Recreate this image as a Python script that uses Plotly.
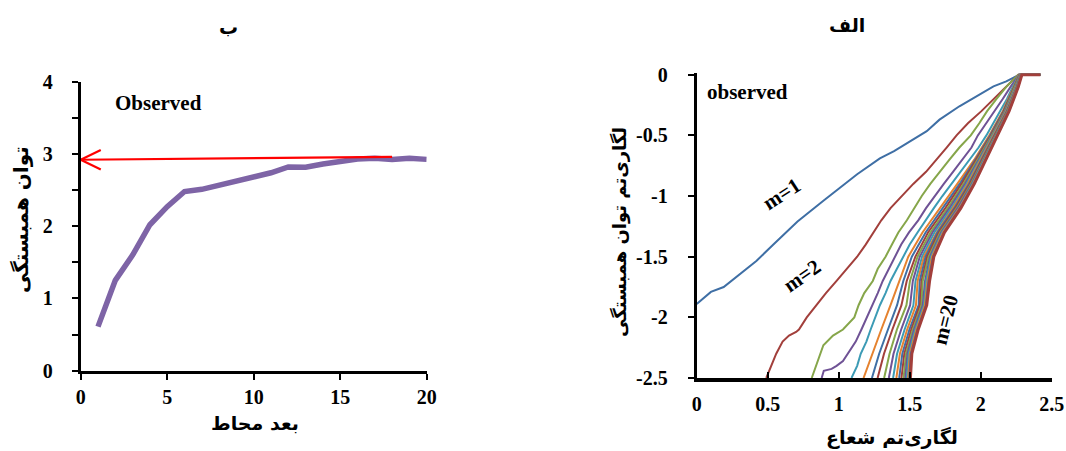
import plotly.graph_objects as go

# ---------------- panel "ب": correlation exponent vs embedding dimension ----------------
embedding_dim = list(range(1, 21))
corr_exponent = [0.61, 1.25, 1.60, 2.02, 2.27, 2.48, 2.51, 2.57, 2.62, 2.685,
                 2.74, 2.82, 2.815, 2.86, 2.89, 2.93, 2.94, 2.925, 2.94, 2.925]

# saturation arrow (tail -> tip) and the two arms of its open head
arrow_x = [18.0, 0.0]
arrow_y = [2.96, 2.92]
arrow_arm_dx = 1.16
arrow_arm_dy = 0.135

# ---------------- panel "الف": log C(r) vs log r for m = 1..20 ----------------
log_r_max = 2.42  # every curve ends flat at log C = 0 out to here

m1_log_r = [0.00, 0.10, 0.19, 0.30, 0.42, 0.54, 0.62, 0.71, 0.89, 1.13, 1.29, 1.39,
            1.62, 1.71, 1.85, 1.95, 2.09, 2.18, 2.25, 2.27]
m1_log_c = [-1.89, -1.79, -1.75, -1.645, -1.535, -1.40, -1.31, -1.21, -1.04, -0.82, -0.69, -0.63,
            -0.465, -0.37, -0.26, -0.19, -0.096, -0.055, -0.008, 0.0]

m2_log_r = [0.49, 0.525, 0.56, 0.605, 0.65, 0.70, 0.72, 0.775, 0.84, 0.91, 0.985, 1.06, 1.13,
            1.19, 1.245, 1.30, 1.365, 1.445, 1.525, 1.615, 1.69, 1.76, 1.83, 1.91, 2.005,
            2.09, 2.175, 2.265]
m2_log_c = [-2.5, -2.4, -2.3, -2.2, -2.15, -2.12, -2.1, -2.0, -1.9, -1.8, -1.7, -1.6, -1.5,
            -1.4, -1.3, -1.2, -1.1, -1.0, -0.9, -0.8, -0.7, -0.6, -0.5, -0.4, -0.3,
            -0.2, -0.1, 0.0]

m3_log_r = [0.81, 0.84, 0.87, 0.892, 0.96, 1.03, 1.11, 1.14, 1.18, 1.24, 1.275, 1.33, 1.375,
            1.42, 1.48, 1.53, 1.585, 1.645, 1.71, 1.78, 1.85, 1.93, 1.99, 2.045, 2.11,
            2.18, 2.265]
m3_log_c = [-2.5, -2.4, -2.3, -2.23, -2.15, -2.1, -2.0, -1.9, -1.8, -1.7, -1.6, -1.5, -1.4,
            -1.3, -1.2, -1.1, -1.0, -0.9, -0.8, -0.7, -0.6, -0.5, -0.4, -0.3, -0.2,
            -0.1, 0.0]

m4_log_r = [0.88, 0.895, 0.95, 0.985, 1.03, 1.065, 1.12, 1.16, 1.20, 1.24, 1.275, 1.31, 1.355,
            1.40, 1.44, 1.495, 1.56, 1.615, 1.675, 1.74, 1.805, 1.87, 1.935, 1.98, 2.04,
            2.095, 2.155, 2.21, 2.27]
m4_log_c = [-2.5, -2.44, -2.425, -2.4, -2.36, -2.3, -2.2, -2.1, -2.0, -1.9, -1.8, -1.7, -1.6,
            -1.5, -1.4, -1.3, -1.2, -1.1, -1.0, -0.9, -0.8, -0.7, -0.6, -0.5, -0.4,
            -0.3, -0.2, -0.1, 0.0]

m5_log_r = [1.09, 1.105, 1.13, 1.155, 1.195, 1.225, 1.255, 1.29, 1.33, 1.365, 1.41, 1.455,
            1.50, 1.555, 1.61, 1.67, 1.73, 1.795, 1.86, 1.925, 1.985, 2.04, 2.09, 2.14,
            2.185, 2.225, 2.27]
m5_log_c = [-2.5, -2.46, -2.4, -2.3, -2.2, -2.1, -2.0, -1.9, -1.8, -1.7, -1.6, -1.5,
            -1.4, -1.3, -1.2, -1.1, -1.0, -0.9, -0.8, -0.7, -0.6, -0.5, -0.4, -0.3,
            -0.2, -0.1, 0.0]

# m = 6..20 share one set of log C levels; each row holds log r for one m
bundle_log_c = [-2.5, -2.3, -2.1, -1.9, -1.7, -1.5, -1.3, -1.1, -0.9, -0.7, -0.5, -0.3, -0.1, 0.0]
bundle_log_r = [
    [1.175, 1.235, 1.300, 1.365, 1.425, 1.490, 1.590, 1.715, 1.835, 1.955, 2.060, 2.155, 2.235, 2.270],  # m=6
    [1.234, 1.285, 1.347, 1.411, 1.455, 1.515, 1.612, 1.735, 1.852, 1.963, 2.066, 2.160, 2.238, 2.272],  # m=7
    [1.274, 1.319, 1.378, 1.442, 1.479, 1.540, 1.629, 1.751, 1.865, 1.971, 2.072, 2.164, 2.241, 2.274],  # m=8
    [1.320, 1.358, 1.410, 1.477, 1.502, 1.555, 1.646, 1.767, 1.878, 1.979, 2.078, 2.169, 2.244, 2.276],  # m=9
    [1.353, 1.386, 1.440, 1.503, 1.522, 1.571, 1.660, 1.780, 1.889, 1.986, 2.083, 2.173, 2.247, 2.277],  # m=10
    [1.383, 1.411, 1.464, 1.526, 1.541, 1.587, 1.674, 1.793, 1.900, 1.993, 2.089, 2.177, 2.249, 2.279],  # m=11
    [1.406, 1.431, 1.482, 1.544, 1.556, 1.600, 1.690, 1.803, 1.908, 2.000, 2.094, 2.180, 2.252, 2.280],  # m=12
    [1.426, 1.448, 1.498, 1.563, 1.571, 1.612, 1.695, 1.814, 1.917, 2.006, 2.098, 2.184, 2.254, 2.281],  # m=13
    [1.442, 1.462, 1.511, 1.572, 1.584, 1.623, 1.705, 1.822, 1.924, 2.012, 2.103, 2.187, 2.256, 2.283],  # m=14
    [1.457, 1.474, 1.522, 1.583, 1.592, 1.634, 1.714, 1.831, 1.931, 2.017, 2.107, 2.190, 2.258, 2.284],  # m=15
    [1.469, 1.484, 1.531, 1.592, 1.608, 1.643, 1.722, 1.838, 1.937, 2.022, 2.110, 2.193, 2.260, 2.285],  # m=16
    [1.479, 1.493, 1.539, 1.600, 1.616, 1.650, 1.728, 1.848, 1.942, 2.026, 2.113, 2.195, 2.262, 2.286],  # m=17
    [1.489, 1.501, 1.547, 1.607, 1.625, 1.657, 1.734, 1.850, 1.947, 2.029, 2.116, 2.197, 2.263, 2.287],  # m=18
    [1.497, 1.508, 1.554, 1.614, 1.632, 1.664, 1.740, 1.855, 1.951, 2.033, 2.118, 2.199, 2.264, 2.289],  # m=19
    [1.505, 1.515, 1.560, 1.620, 1.640, 1.670, 1.745, 1.860, 1.955, 2.035, 2.120, 2.200, 2.265, 2.290],  # m=20
]

# office-style series colours, cycling every six curves
series_colors = ["#3F6FA5", "#A23F3B", "#86A64A", "#6F5295", "#3C9BB5", "#E5822F"]

left_y_ticks = [0, 0.5, 1, 1.5, 2, 2.5, 3, 3.5, 4]
left_y_labels = ["0", "", "1", "", "2", "", "3", "", "4"]
left_x_ticks = [0, 5, 10, 15, 20]
right_y_ticks = [0, -0.5, -1, -1.5, -2, -2.5]
right_y_labels = ["0", "-0.5", "-1", "-1.5", "-2", "-2.5"]
right_x_ticks = [0, 0.5, 1, 1.5, 2, 2.5]
right_x_labels = ["0", "0.5", "1", "1.5", "2", "2.5"]

W, H = 1066, 451
SERIF = "Liberation Serif, Times New Roman, serif"
PERSIAN = "DejaVu Sans, Noto Sans, sans-serif"


def px_x(v):
    return v / W


def px_y(v):
    return 1 - v / H


fig = go.Figure()

# ---- panel ب ----
fig.add_trace(go.Scatter(x=embedding_dim, y=corr_exponent, mode="lines",
                         line=dict(color="#7E64A6", width=5.5), xaxis="x", yaxis="y",
                         showlegend=False))
fig.add_trace(go.Scatter(x=arrow_x, y=arrow_y, mode="lines",
                         line=dict(color="#FF0000", width=2.2), xaxis="x", yaxis="y",
                         showlegend=False))
tip_x, tip_y = arrow_x[1], arrow_y[1]
fig.add_trace(go.Scatter(x=[tip_x + arrow_arm_dx, tip_x, tip_x + arrow_arm_dx],
                         y=[tip_y + arrow_arm_dy, tip_y, tip_y - arrow_arm_dy],
                         mode="lines", line=dict(color="#FF0000", width=2.2),
                         xaxis="x", yaxis="y", showlegend=False, cliponaxis=False))

# ---- panel الف ----
curves = [(m1_log_r, m1_log_c), (m2_log_r, m2_log_c), (m3_log_r, m3_log_c),
          (m4_log_r, m4_log_c), (m5_log_r, m5_log_c)]
curves += [(row, bundle_log_c) for row in bundle_log_r]
for i, (xs, ys) in enumerate(curves):
    m = i + 1
    fig.add_trace(go.Scatter(x=list(xs) + [log_r_max], y=list(ys) + [0.0], mode="lines",
                             line=dict(color=series_colors[i % 6], width=3 if m == 20 else 2),
                             xaxis="x2", yaxis="y2", showlegend=False, name=f"m={m}"))

axis_common = dict(showgrid=False, zeroline=False, showline=True, linecolor="black",
                   tickcolor="black", tickwidth=2, ticklen=6, automargin=False,
                   tickfont=dict(family=SERIF, size=20, color="black", weight="bold"))

fig.update_layout(
    template="none",
    width=W, height=H, autosize=False,
    margin=dict(l=0, r=0, t=0, b=0, pad=0, autoexpand=False),
    paper_bgcolor="white", plot_bgcolor="white",
    xaxis=dict(domain=[px_x(80.7), px_x(426.7)], range=[0, 20], anchor="y",
               tickvals=left_x_ticks, ticks="outside", linewidth=3,
               ticklabelstandoff=0, **axis_common),
    yaxis=dict(domain=[px_y(370.7), px_y(81.7)], range=[0, 4], anchor="x",
               tickvals=left_y_ticks, ticktext=left_y_labels, ticks="outside", linewidth=3,
               ticklabelstandoff=15, **axis_common),
    xaxis2=dict(domain=[px_x(696.7), px_x(1051.7)], range=[0, 2.5], anchor="y2",
                tickvals=right_x_ticks, ticktext=right_x_labels, ticks="inside", linewidth=4,
                ticklabelstandoff=5, **axis_common),
    yaxis2=dict(domain=[px_y(378), px_y(73.3)], range=[-2.5, 0.012], anchor="x2",
                tickvals=right_y_ticks, ticktext=right_y_labels, ticks="outside", linewidth=3,
                ticklabelstandoff=16, **axis_common),
)

bold_serif = dict(family=SERIF, size=21, color="black", weight="bold")


def persian(size):
    return dict(family=PERSIAN, size=size, color="black", weight="bold")


annotations = [
    # panel titles
    dict(text="ب", x=px_x(228), y=px_y(27), xref="paper", yref="paper", font=persian(19)),
    dict(text="الف", x=px_x(847), y=px_y(25), xref="paper", yref="paper", font=persian(19)),
    # axis titles
    dict(text="بعد محاط", x=px_x(255), y=px_y(423), xref="paper", yref="paper", font=persian(19)),
    dict(text="توان همبستگی", x=px_x(21), y=px_y(220), xref="paper", yref="paper",
         textangle=-90, font=persian(20)),
    dict(text="لگاری\u200cتم شعاع", x=px_x(892), y=px_y(437), xref="paper", yref="paper",
         font=persian(19)),
    dict(text="لگاری\u200cتم توان همبستگی", x=px_x(620), y=px_y(232), xref="paper", yref="paper",
         textangle=-90, font=persian(18)),
    # in-plot labels
    dict(text="Observed", x=1.87, y=3.705, xref="x", yref="y", xanchor="left", font=bold_serif),
    dict(text="observed", x=0.058, y=-0.145, xref="x2", yref="y2", xanchor="left", font=bold_serif),
    dict(text="m=1", x=0.599, y=-0.986, xref="x2", yref="y2", textangle=-33, font=bold_serif),
    dict(text="m=2", x=0.739, y=-1.657, xref="x2", yref="y2", textangle=-35, font=bold_serif),
    dict(text="m=20", x=1.75, y=-2.021, xref="x2", yref="y2", textangle=-76, font=bold_serif),
]
for a in annotations:
    a.setdefault("showarrow", False)
    a.setdefault("xanchor", "center")
    a.setdefault("yanchor", "middle")
fig.update_layout(annotations=annotations)

# the page holds only the figure: no body margin, no scrollbars
page_css = ("document.documentElement.style.margin='0';document.body.style.margin='0';"
            "document.documentElement.style.overflow='hidden';document.body.style.overflow='hidden';")
fig.write_html("out.html", post_script=page_css)
